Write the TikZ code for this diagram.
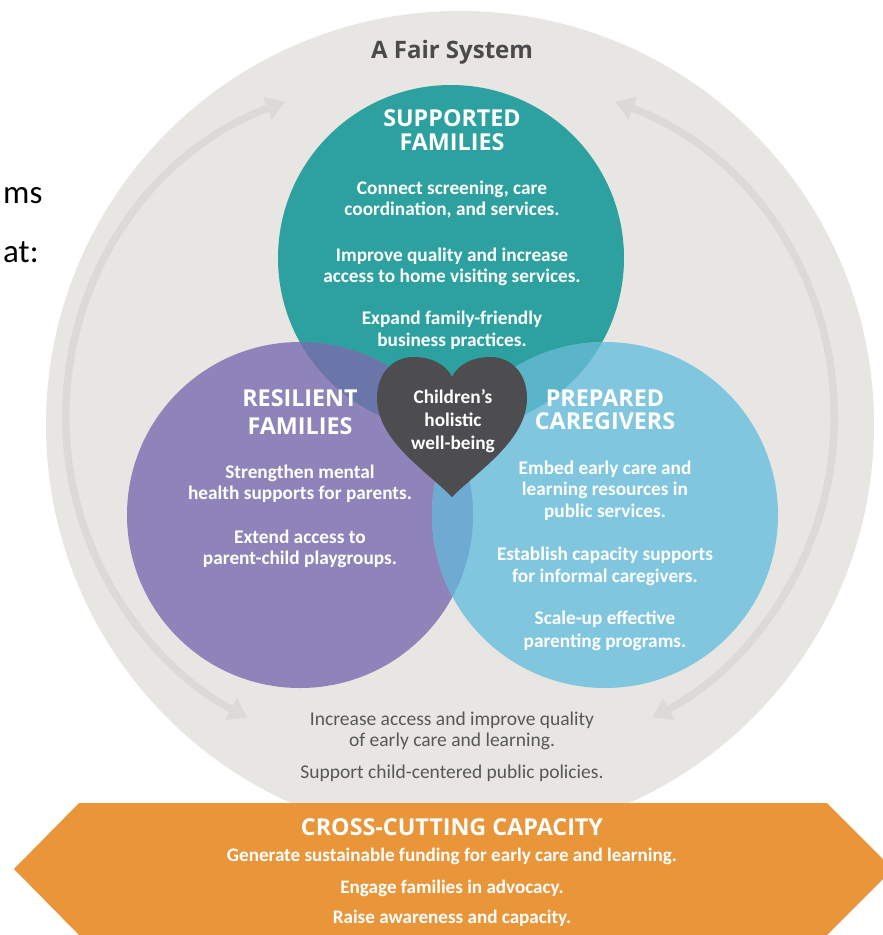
\documentclass[tikz,border=0pt]{standalone}
\usepackage{fontspec}
\setmainfont{Carlito}
\newfontfamily\headfont{Open Sans}
\usetikzlibrary{arrows.meta}
\definecolor{bggrey}{HTML}{E8E6E3}
\definecolor{arrgrey}{HTML}{DCDAD6}
\definecolor{teal1}{HTML}{2CA19F}
\definecolor{purp}{HTML}{8E84B9}
\definecolor{lblue}{HTML}{80C6DF}
\definecolor{tp}{HTML}{6A76A9}
\definecolor{tb}{HTML}{5BB5C9}
\definecolor{pb}{HTML}{6FAAD2}
\definecolor{heartc}{HTML}{4D4C4E}
\definecolor{orng}{HTML}{E9953A}
\definecolor{txtgrey}{HTML}{575757}
\definecolor{titlegrey}{HTML}{4A4A4A}
\tikzset{
  body/.style={text=white, font=\fontsize{19.3}{22.5}\selectfont\bfseries, anchor=base, inner sep=0pt},
  greytxt/.style={text=txtgrey, font=\fontsize{19.5}{22.5}\selectfont, anchor=base, inner sep=0pt},
  headtxt/.style={text=white, font=\headfont\bfseries\fontsize{23.3}{24}\selectfont, anchor=base, inner sep=0pt},
  slidetxt/.style={text=black, font=\fontsize{33}{36}\selectfont, anchor=base west, inner sep=0pt},
  cyclearrow/.style={arrgrey, line width=7.5pt, {Triangle[width=23pt,length=19pt]}-{Triangle[width=23pt,length=19pt]}}
}
\begin{document}
\begin{tikzpicture}[x=1pt,y=-1pt]
\useasboundingbox (0,0) rectangle (883,935);
\fill[white] (0,0) rectangle (883,935);
% big grey circle
\fill[bggrey] (460,425) circle[radius=414];
% cycle arrows
\draw[cyclearrow] ([shift={(-110.6:338)}]404,418) arc[start angle=-110.6, end angle=-242.5, radius=338];
\draw[cyclearrow] ([shift={(-69.4:338)}]496,418) arc[start angle=-69.4, end angle=62.5, radius=338];
% three circles
\fill[teal1] (451,258) circle[radius=173];
\fill[purp] (300,515) circle[radius=173];
\fill[lblue] (605,515) circle[radius=173];
\begin{scope}
  \clip (451,258) circle[radius=173];
  \fill[tp] (300,515) circle[radius=173];
  \fill[tb] (605,515) circle[radius=173];
\end{scope}
\begin{scope}
  \clip (300,515) circle[radius=173];
  \fill[pb] (605,515) circle[radius=173];
\end{scope}
% heart
\fill[heartc] (452,497) .. controls (425,470) and (377,440) .. (377,398)
  .. controls (377,373) and (393,357) .. (414,357)
  .. controls (433,357) and (447,366) .. (452,377)
  .. controls (457,366) and (471,357) .. (490,357)
  .. controls (511,357) and (527,373) .. (527,398)
  .. controls (527,440) and (479,470) .. (452,497) -- cycle;
% banner
\fill[orng] (79,803) -- (827,803) -- (893,869) -- (827,935) -- (79,935) -- (14,869) -- cycle;
% slide remnants
\node[slidetxt] (s1) at (3,203) {ms};
\node[slidetxt] (s2) at (3,262) {at:};
% title
\node[anchor=base, inner sep=0pt, text=titlegrey, font=\headfont\bfseries\fontsize{24}{26}\selectfont] (title) at (452,58) {A Fair System};
% supported families
\node[headtxt] (sfh1) at (452,126) {SUPPORTED};
\node[headtxt] (sfh2) at (452,150) {FAMILIES};
\node[body] (sf1) at (452,194) {Connect screening, care};
\node[body] (sf2) at (452,215.5) {coordination, and services.};
\node[body] (sf3) at (452,261) {Improve quality and increase};
\node[body] (sf4) at (452,282) {access to home visiting services.};
\node[body] (sf5) at (452,324.5) {Expand family-friendly};
\node[body] (sf6) at (452,346.5) {business practices.};
% resilient families
\node[headtxt] (rfh1) at (300,406) {RESILIENT};
\node[headtxt] (rfh2) at (300,434) {FAMILIES};
\node[body] (rf1) at (300,478) {Strengthen mental};
\node[body] (rf2) at (300,499) {health supports for parents.};
\node[body] (rf3) at (300,543) {Extend access to};
\node[body] (rf4) at (300,564) {parent-child playgroups.};
% prepared caregivers
\node[headtxt] (pch1) at (605,406) {PREPARED};
\node[headtxt] (pch2) at (605,429) {CAREGIVERS};
\node[body] (pc1) at (605,474) {Embed early care and};
\node[body] (pc2) at (605,495) {learning resources in};
\node[body] (pc3) at (605,517) {public services.};
\node[body] (pc4) at (605,560) {Establish capacity supports};
\node[body] (pc5) at (605,582) {for informal caregivers.};
\node[body] (pc6) at (605,624) {Scale-up effective};
\node[body] (pc7) at (605,647) {parenting programs.};
% heart text
\node[body] (h1) at (453,403) {Children’s};
\node[body] (h2) at (453,426) {holistic};
\node[body] (h3) at (453,449) {well-being};
% bottom grey text
\node[greytxt] (g1) at (452,725) {Increase access and improve quality};
\node[greytxt] (g2) at (452,746) {of early care and learning.};
\node[greytxt] (g3) at (452,778) {Support child-centered public policies.};
% banner text
\node[headtxt] (cch) at (452,835) {CROSS-CUTTING CAPACITY};
\node[body, font=\fontsize{19.1}{22}\selectfont\bfseries] (cc1) at (452,861) {Generate sustainable funding for early care and learning.};
\node[body, font=\fontsize{19.1}{22}\selectfont\bfseries] (cc2) at (452,893) {Engage families in advocacy.};
\node[body, font=\fontsize{19.1}{22}\selectfont\bfseries] (cc3) at (452,923) {Raise awareness and capacity.};
\end{tikzpicture}
\end{document}
